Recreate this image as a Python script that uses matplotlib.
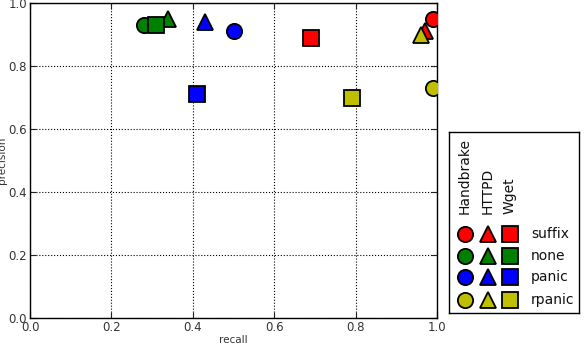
import matplotlib
matplotlib.use("Agg")
import matplotlib.pyplot as plt

programs = ["Handbrake", "HTTPD", "Wget"]
program_markers = ["o", "^", "s"]
strategies = ["suffix", "none", "panic", "rpanic"]
strategy_colors = ["#ff0000", "#008000", "#0000ff", "#bfbf00"]

# recall / precision per program, in strategy order
recall = {
    "Handbrake": [0.99, 0.28, 0.50, 0.99],
    "HTTPD":     [0.97, 0.34, 0.43, 0.96],
    "Wget":      [0.69, 0.31, 0.41, 0.79],
}
precision = {
    "Handbrake": [0.95, 0.93, 0.91, 0.73],
    "HTTPD":     [0.91, 0.95, 0.94, 0.90],
    "Wget":      [0.89, 0.93, 0.71, 0.70],
}
xticks = [0.0, 0.2, 0.4, 0.6, 0.8, 1.0]
yticks = [0.0, 0.2, 0.4, 0.6, 0.8, 1.0]

W, H = 587, 352
fig = plt.figure(figsize=(W / 100, H / 100), dpi=100)
fig.patch.set_facecolor("white")

ax = fig.add_axes([30 / W, 1 - 318 / H, 407 / W, 315 / H])
ms = 11
mew = 1.3
for prog, mk in zip(programs, program_markers):
    for i, col in enumerate(strategy_colors):
        ax.plot(recall[prog][i], precision[prog][i], marker=mk, color=col,
                markersize=ms, markeredgecolor="black", markeredgewidth=mew,
                linestyle="none", zorder=3)

ax.set_xlim(0, 1)
ax.set_ylim(0, 1)
ax.set_xticks(xticks)
ax.set_yticks(yticks)
ax.set_xticklabels([f"{v:.1f}" for v in xticks])
ax.set_yticklabels([f"{v:.1f}" for v in yticks])
ax.tick_params(direction="in", top=True, right=True, labelsize=8.5, length=4, pad=2,
               colors="#222222", labelcolor="#333333")
ax.grid(True, linestyle=":", color="black", linewidth=0.8)
for s in ax.spines.values():
    s.set_linewidth(1.0)
    s.set_color("black")
ax.set_xlabel("recall", fontsize=7.5, color="#333333", labelpad=1)
ax.set_ylabel("precision", fontsize=7.5, color="#333333", labelpad=1)

# custom legend box
lx0, ly0, lx1, ly1 = 449, 132, 579, 313
lax = fig.add_axes([lx0 / W, 1 - ly1 / H, (lx1 - lx0) / W, (ly1 - ly0) / H])
lax.set_xlim(0, lx1 - lx0)
lax.set_ylim(ly1 - ly0, 0)
lax.set_xticks([])
lax.set_yticks([])
for s in lax.spines.values():
    s.set_linewidth(1.0)
    s.set_color("black")

col_x = [16, 39, 61]
row_y = [102, 124, 145, 168]
text_x = 82
for j, (prog, mk) in enumerate(zip(programs, program_markers)):
    lax.text(col_x[j], 82, prog, rotation=90, ha="center", va="bottom",
             fontsize=10, color="#111111")
    for i, col in enumerate(strategy_colors):
        lax.plot(col_x[j], row_y[i], marker=mk, color=col, markersize=ms,
                 markeredgecolor="black", markeredgewidth=mew, linestyle="none")
for i, st in enumerate(strategies):
    lax.text(text_x, row_y[i], st, ha="left", va="center", fontsize=10,
             color="#111111")

fig.savefig("out.png", dpi=100, facecolor="white")
